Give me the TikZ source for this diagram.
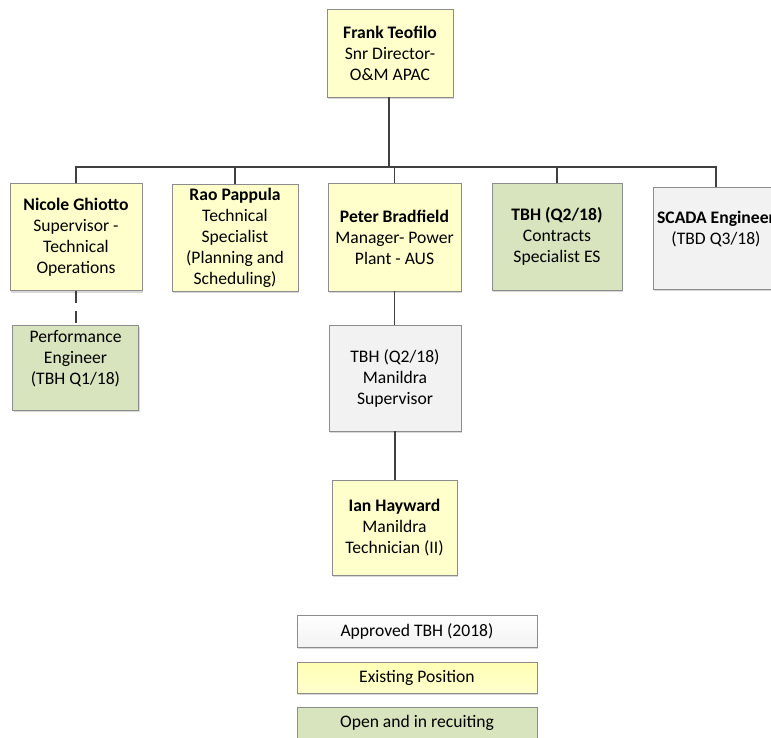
\documentclass[tikz,border=0pt]{standalone}
\usepackage{fontspec}
\setmainfont{Carlito}
\usetikzlibrary{shadows}
\definecolor{ylw}{HTML}{FFFFCC}
\definecolor{ylwlg}{HTML}{FFFFB4}
\definecolor{grn}{HTML}{D7E4BD}
\definecolor{gry}{HTML}{F2F2F2}
\definecolor{bord}{HTML}{8C8C8C}
\definecolor{conn}{HTML}{404040}
\tikzset{
  posbox/.style={draw=bord, line width=0.8pt, inner sep=0pt, align=center,
    font=\fontsize{17.6}{21}\selectfont,
    drop shadow={opacity=0.3, shadow xshift=1pt, shadow yshift=-2pt}},
  existing/.style={posbox, fill=ylw},
  openpos/.style={posbox, fill=grn},
  approved/.style={posbox, fill=gry},
  link/.style={draw=conn, line width=1.5pt},
}
\begin{document}
\begin{tikzpicture}[x=1pt, y=-1pt]
\useasboundingbox[fill=white] (0,0) rectangle (771,738);
\clip (0,0) rectangle (771,738);
% top
\node[existing, minimum width=126pt, minimum height=88pt] (frank) at (390,53)
  {\textbf{Frank Teofilo}\\Snr Director-\\O\&M APAC};
% second row
\node[existing, minimum width=132pt, minimum height=107pt] (nicole) at (76,237)
  {\textbf{Nicole Ghiotto}\\Supervisor -\\Technical\\Operations};
\node[existing, minimum width=126pt, minimum height=107pt] (rao) at (235,237.5)
  {\textbf{Rao Pappula}\\Technical\\Specialist\\(Planning and\\Scheduling)};
\node[existing, minimum width=133pt, minimum height=108pt] (peter) at (394.5,237)
  {\textbf{Peter Bradfield}\\Manager- Power\\Plant - AUS};
\node[openpos, minimum width=130pt, minimum height=107pt] (tbh) at (557,236.5)
  {\textbf{TBH (Q2/18)}\\Contracts\\Specialist ES};
\node[approved, minimum width=126pt, minimum height=102pt] (scada) at (716,238)
  {\textbf{SCADA Engineer}\\(TBD Q3/18)\\\mbox{}};
% third row
\node[openpos, minimum width=126pt, minimum height=85pt] (perf) at (75.5,367.5)
  {Performance\\Engineer\\(TBH Q1/18)\\\mbox{}};
\node[approved, minimum width=132pt, minimum height=106pt] (mansup) at (395,378)
  {TBH (Q2/18)\\Manildra\\Supervisor};
\node[existing, minimum width=125pt, minimum height=95pt] (ian) at (394.5,527.5)
  {\textbf{Ian Hayward}\\Manildra\\Technician (II)};
% legend
\node[posbox, top color=white, bottom color=gry, minimum width=240pt, minimum height=32pt] (lgA) at (417,631)
  {Approved TBH (2018)};
\node[posbox, top color=ylwlg, bottom color=ylw, minimum width=240pt, minimum height=31pt] (lgE) at (417,677.5)
  {Existing Position};
\node[openpos, minimum width=240pt, minimum height=32pt] (lgO) at (417,723)
  {Open and in recuiting};
% connectors
\coordinate (bus) at (389,167);
\draw[link] (frank.south -| bus) -- (bus);
\draw[link] (nicole.north) |- (bus) -| (scada.north);
\draw[link] (rao.north) -- (rao.north |- bus);
\draw[link] (peter.north) -- (peter.north |- bus);
\draw[link] (tbh.north) -- (tbh.north |- bus);
\draw[link] (peter.south) -- (mansup.north -| peter.south);
\draw[link] (mansup.south) -- (ian.north -| mansup.south);
\draw[link, line width=1.2pt, dash pattern=on 12pt off 8pt] (nicole.south) -- (perf.north -| nicole.south);
\end{tikzpicture}
\end{document}
